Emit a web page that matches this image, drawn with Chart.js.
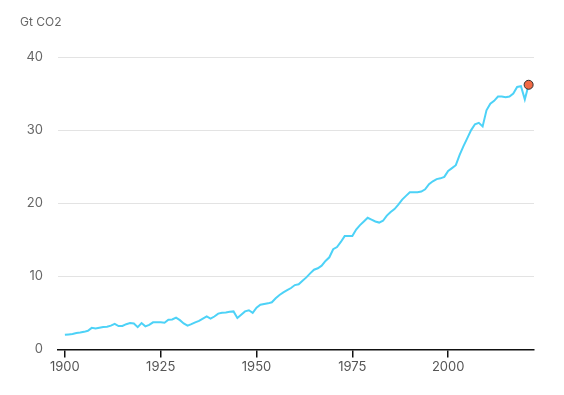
<!DOCTYPE html>
<html>
<head>
<meta charset="utf-8">
<script src="https://cdn.jsdelivr.net/npm/chart.js@4/dist/chart.umd.min.js"></script>
<style>
  html, body { margin: 0; padding: 0; background: #fff; }
  #wrap { width: 564px; height: 395px; position: relative; }
</style>
</head>
<body>
<div id="wrap"><canvas id="c" width="564" height="395"></canvas></div>
<script>
const unitLabel = "Gt CO2";
const years = [];
for (let y = 1900; y <= 2021; y++) years.push(y);
const emissions = [
  2.0, 2.05, 2.1, 2.25, 2.3, 2.4, 2.55, 2.95, 2.85, 2.95,
  3.05, 3.1, 3.25, 3.5, 3.2, 3.2, 3.45, 3.6, 3.55, 3.05,
  3.6, 3.15, 3.35, 3.7, 3.7, 3.7, 3.65, 4.05, 4.1, 4.35,
  4.0, 3.55, 3.25, 3.45, 3.7, 3.9, 4.2, 4.5, 4.2, 4.5,
  4.9, 5.0, 5.05, 5.15, 5.2, 4.3, 4.75, 5.2, 5.35, 5.0,
  5.7, 6.1, 6.2, 6.3, 6.45, 7.0, 7.45, 7.8, 8.1, 8.4,
  8.8, 8.9, 9.4, 9.85, 10.4, 10.9, 11.1, 11.45, 12.1, 12.6,
  13.7, 14.0, 14.7, 15.5, 15.5, 15.5, 16.4, 17.0, 17.5, 18.0,
  17.75, 17.5, 17.35, 17.6, 18.3, 18.8, 19.2, 19.8, 20.5, 21.0,
  21.5, 21.5, 21.5, 21.6, 21.9, 22.6, 23.0, 23.3, 23.4, 23.6,
  24.4, 24.8, 25.2, 26.6, 27.8, 28.9, 30.0, 30.8, 31.0, 30.5,
  32.7, 33.6, 34.0, 34.6, 34.6, 34.5, 34.6, 35.0, 35.9, 36.0,
  34.2, 36.2
];
const xTicks = [1900, 1925, 1950, 1975, 2000];
const yTicks = [0, 10, 20, 30, 40];

const points = years.map((y, i) => ({ x: y, y: emissions[i] }));
const lastIdx = points.length - 1;
const FONT = "Inter, 'Noto Sans', sans-serif";

const unitPlugin = {
  id: 'unitLabel',
  afterDraw(chart) {
    const ctx = chart.ctx;
    ctx.save();
    ctx.font = "12px " + FONT;
    ctx.fillStyle = "#666";
    ctx.textAlign = "left";
    ctx.textBaseline = "middle";
    ctx.fillText(unitLabel, 20, 22);
    ctx.restore();
  }
};

new Chart(document.getElementById('c'), {
  type: 'line',
  data: {
    datasets: [{
      data: points,
      borderColor: '#4dd2f7',
      borderWidth: 2,
      tension: 0,
      fill: false,
      pointRadius: ctx => ctx.dataIndex === lastIdx ? 4.5 : 0,
      pointHoverRadius: ctx => ctx.dataIndex === lastIdx ? 4.5 : 0,
      pointBackgroundColor: '#f26a45',
      pointBorderColor: '#333',
      pointBorderWidth: 1
    }]
  },
  options: {
    responsive: false,
    animation: false,
    layout: { padding: { left: 18, right: 30, top: 57, bottom: 18 } },
    plugins: { legend: { display: false }, tooltip: { enabled: false } },
    scales: {
      x: {
        type: 'linear',
        min: 1898.2,
        max: 2022.4,
        afterBuildTicks: s => { s.ticks = xTicks.map(v => ({ value: v })); },
        grid: { drawOnChartArea: false, drawTicks: true, tickLength: 8, color: '#111', lineWidth: 1.5 },
        border: { display: true, color: '#111', width: 1.5 },
        ticks: { font: { family: FONT, size: 13 }, color: '#555', padding: 2, maxRotation: 0,
                 callback: v => String(v) }
      },
      y: {
        min: 0,
        max: 40,
        afterBuildTicks: s => { s.ticks = yTicks.map(v => ({ value: v })); },
        afterFit: s => { s.width = 40; },
        grid: { color: '#e3e3e3', lineWidth: 1, drawTicks: false },
        border: { display: false },
        ticks: { font: { family: FONT, size: 13 }, color: '#666', padding: 15 }
      }
    }
  },
  plugins: [unitPlugin]
});
</script>
</body>
</html>
